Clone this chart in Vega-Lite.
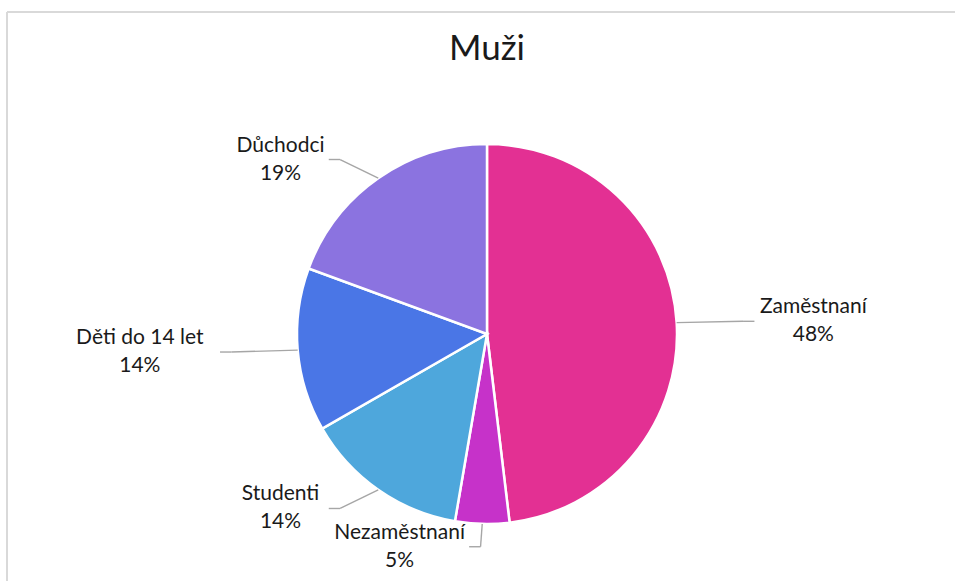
{
  "$schema": "https://vega.github.io/schema/vega-lite/v6.json",
  "width": 948,
  "height": 569,
  "autosize": {"type": "none"},
  "padding": {"left": 7, "top": 12, "right": 0, "bottom": 0},
  "background": "white",
  "config": {"view": {"stroke": null}, "font": "Lato"},
  "title": {"text": "Muži", "fontSize": 35, "font": "Lato", "fontWeight": "normal", "color": "#1a1a1a", "anchor": "middle", "frame": "group", "offset": -84, "dx": 6, "baseline": "alphabetic"},
  "data": {"values": [
    {"k": "Zaměstnaní", "v": 48.1},
    {"k": "Nezaměstnaní", "v": 4.6},
    {"k": "Studenti", "v": 14.0},
    {"k": "Děti do 14 let", "v": 13.9},
    {"k": "Důchodci", "v": 19.4}
  ]},
  "transform": [
    {"window": [{"op": "row_number", "as": "o"}]},
    {"joinaggregate": [{"op": "sum", "field": "v", "as": "total"}]},
    {"window": [{"op": "sum", "field": "v", "as": "cum"}], "sort": [{"field": "o"}], "frame": [null, 0]},
    {"calculate": "2*PI*(datum.cum - datum.v/2)/datum.total", "as": "mid"},
    {"calculate": "sin(datum.mid)", "as": "s"},
    {"calculate": "cos(datum.mid)", "as": "c"},
    {"calculate": "datum.s >= 0 ? 1 : -1", "as": "side"},
    {"calculate": "1.35*datum.s", "as": "p1x"},
    {"calculate": "1.12*datum.c", "as": "p1y"},
    {"calculate": "datum.p1x + 0.06*datum.side", "as": "p2x"},
    {"calculate": "datum.p2x + datum.side*(0.03 + 0.028*length(datum.k))", "as": "tx"},
    {"calculate": "datum.k + '\\n' + format(datum.v/datum.total, '.0%')", "as": "lab"}
  ],
  "layer": [
    {
      "mark": {"type": "rule", "color": "#d9d9d9", "strokeWidth": 1.5},
      "encoding": {
        "y": {"datum": 1.6947, "type": "quantitative", "scale": {"domain": [-1.3, 1.6947], "nice": false, "zero": false}, "axis": null}
      }
    },
    {
      "mark": {"type": "rule", "color": "#d9d9d9", "strokeWidth": 1.5},
      "encoding": {
        "x": {"datum": -2.5263, "type": "quantitative", "scale": {"domain": [-2.5263, 2.4632], "nice": false, "zero": false}, "axis": null}
      }
    },
    {
      "mark": {"type": "arc", "outerRadius": 190, "stroke": "white", "strokeWidth": 2.5},
      "encoding": {
        "theta": {"field": "v", "type": "quantitative", "stack": true},
        "order": {"field": "o", "type": "quantitative"},
        "color": {"field": "k", "type": "nominal", "legend": null,
          "scale": {"domain": ["Zaměstnaní", "Nezaměstnaní", "Studenti", "Děti do 14 let", "Důchodci"],
                    "range": ["#E33093", "#C632C9", "#4EA7DC", "#4A76E6", "#8B73E0"]}},
        "x": {"datum": 0, "type": "quantitative", "scale": {"domain": [-2.5263, 2.4632], "nice": false, "zero": false}, "axis": null},
        "y": {"datum": 0, "type": "quantitative", "scale": {"domain": [-1.3, 1.6947], "nice": false, "zero": false}, "axis": null}
      }
    },
    {
      "mark": {"type": "rule", "color": "#a6a6a6", "strokeWidth": 1.4},
      "encoding": {
        "x": {"field": "s", "type": "quantitative", "scale": {"domain": [-2.5263, 2.4632], "nice": false, "zero": false}, "axis": null},
        "y": {"field": "c", "type": "quantitative", "scale": {"domain": [-1.3, 1.6947], "nice": false, "zero": false}, "axis": null},
        "x2": {"field": "p1x"},
        "y2": {"field": "p1y"}
      }
    },
    {
      "mark": {"type": "rule", "color": "#a6a6a6", "strokeWidth": 1.4},
      "encoding": {
        "x": {"field": "p1x", "type": "quantitative", "scale": {"domain": [-2.5263, 2.4632], "nice": false, "zero": false}, "axis": null},
        "y": {"field": "p1y", "type": "quantitative", "scale": {"domain": [-1.3, 1.6947], "nice": false, "zero": false}, "axis": null},
        "x2": {"field": "p2x"}
      }
    },
    {
      "mark": {"type": "text", "align": "center", "baseline": "middle", "dy": -14, "lineBreak": "\n", "lineHeight": 28, "fontSize": 21, "font": "Lato", "color": "#1a1a1a"},
      "encoding": {
        "x": {"field": "tx", "type": "quantitative", "scale": {"domain": [-2.5263, 2.4632], "nice": false, "zero": false}, "axis": null},
        "y": {"field": "p1y", "type": "quantitative", "scale": {"domain": [-1.3, 1.6947], "nice": false, "zero": false}, "axis": null},
        "text": {"field": "lab", "type": "nominal"}
      }
    }
  ]
}
